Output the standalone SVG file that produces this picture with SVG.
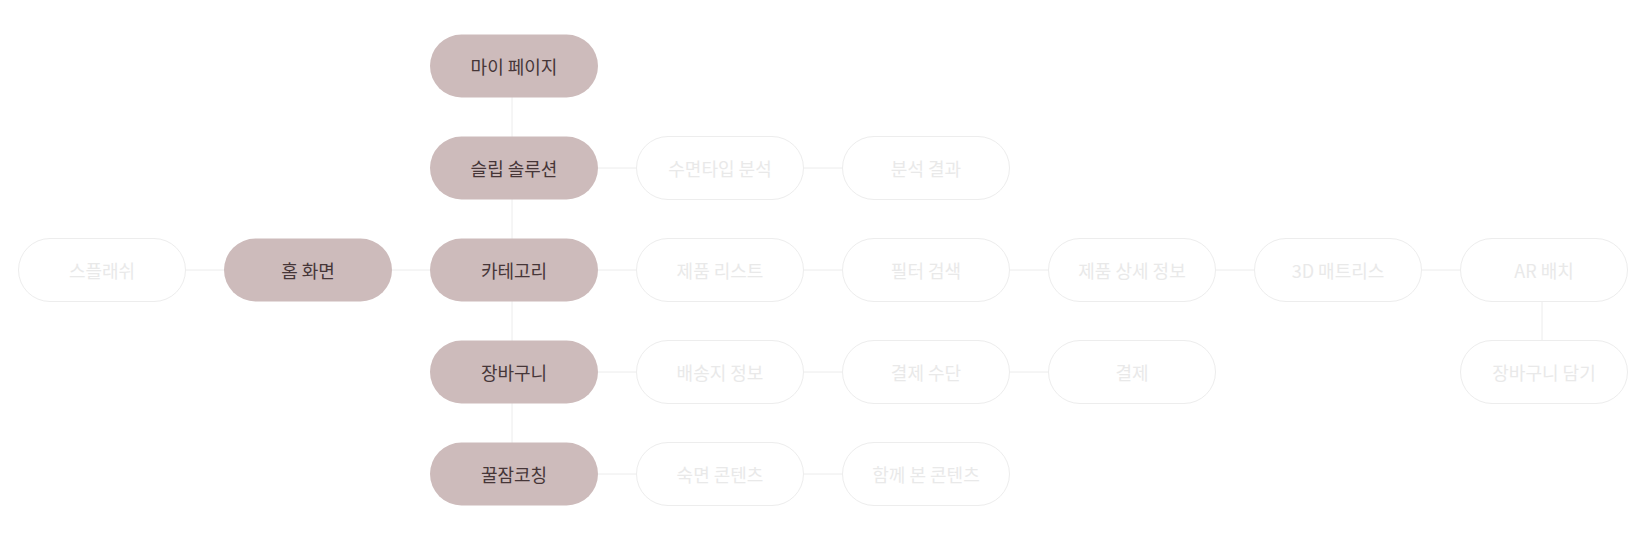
<svg xmlns="http://www.w3.org/2000/svg" width="1648" height="541" viewBox="0 0 1648 541">
<style>
.ln{stroke:#ececec;stroke-width:1;fill:none}
.on rect{fill:#cdbbbb}
.on text{fill:#463638;font-weight:400}
.off rect{fill:#ffffff;stroke:#ededed;stroke-width:1}
.off text{fill:#e9e9e9;font-weight:400}
text{font-family:"Noto Sans CJK KR","Noto Sans",sans-serif;font-size:18px;text-anchor:middle;dominant-baseline:central}
</style>
<rect width="1648" height="541" fill="#ffffff"/>
<g id="connectors">
<line class="ln" x1="512" y1="97" x2="512" y2="443"/>
<line class="ln" x1="186" y1="270" x2="224" y2="270"/>
<line class="ln" x1="392" y1="270" x2="430" y2="270"/>
<line class="ln" x1="598" y1="168" x2="636" y2="168"/>
<line class="ln" x1="804" y1="168" x2="842" y2="168"/>
<line class="ln" x1="598" y1="270" x2="636" y2="270"/>
<line class="ln" x1="804" y1="270" x2="842" y2="270"/>
<line class="ln" x1="1010" y1="270" x2="1048" y2="270"/>
<line class="ln" x1="1216" y1="270" x2="1254" y2="270"/>
<line class="ln" x1="1422" y1="270" x2="1460" y2="270"/>
<line class="ln" x1="598" y1="372" x2="636" y2="372"/>
<line class="ln" x1="804" y1="372" x2="842" y2="372"/>
<line class="ln" x1="1010" y1="372" x2="1048" y2="372"/>
<line class="ln" x1="598" y1="474" x2="636" y2="474"/>
<line class="ln" x1="804" y1="474" x2="842" y2="474"/>
<line class="ln" x1="1542" y1="301" x2="1542" y2="340"/>
</g>
<g id="n-mypage" class="on"><rect x="430" y="34.5" width="168" height="63" rx="31.5"/><text x="514" y="66">마이 페이지</text></g>
<g id="n-sleep" class="on"><rect x="430" y="136.5" width="168" height="63" rx="31.5"/><text x="514" y="168">슬립 솔루션</text></g>
<g id="n-category" class="on"><rect x="430" y="238.5" width="168" height="63" rx="31.5"/><text x="514" y="270">카테고리</text></g>
<g id="n-cart" class="on"><rect x="430" y="340.5" width="168" height="63" rx="31.5"/><text x="514" y="372">장바구니</text></g>
<g id="n-coaching" class="on"><rect x="430" y="442.5" width="168" height="63" rx="31.5"/><text x="514" y="474">꿀잠코칭</text></g>
<g id="n-home" class="on"><rect x="224" y="238.5" width="168" height="63" rx="31.5"/><text x="308" y="270">홈 화면</text></g>
<g id="n-splash" class="off"><rect x="18.5" y="238.5" width="167" height="63" rx="31.5"/><text x="102" y="270">스플래쉬</text></g>
<g id="n-sleeptype" class="off"><rect x="636.5" y="136.5" width="167" height="63" rx="31.5"/><text x="720" y="168">수면타입 분석</text></g>
<g id="n-result" class="off"><rect x="842.5" y="136.5" width="167" height="63" rx="31.5"/><text x="926" y="168">분석 결과</text></g>
<g id="n-list" class="off"><rect x="636.5" y="238.5" width="167" height="63" rx="31.5"/><text x="720" y="270">제품 리스트</text></g>
<g id="n-filter" class="off"><rect x="842.5" y="238.5" width="167" height="63" rx="31.5"/><text x="926" y="270">필터 검색</text></g>
<g id="n-detail" class="off"><rect x="1048.5" y="238.5" width="167" height="63" rx="31.5"/><text x="1132" y="270">제품 상세 정보</text></g>
<g id="n-3d" class="off"><rect x="1254.5" y="238.5" width="167" height="63" rx="31.5"/><text x="1338" y="270">3D 매트리스</text></g>
<g id="n-ar" class="off"><rect x="1460.5" y="238.5" width="167" height="63" rx="31.5"/><text x="1544" y="270">AR 배치</text></g>
<g id="n-address" class="off"><rect x="636.5" y="340.5" width="167" height="63" rx="31.5"/><text x="720" y="372">배송지 정보</text></g>
<g id="n-paymethod" class="off"><rect x="842.5" y="340.5" width="167" height="63" rx="31.5"/><text x="926" y="372">결제 수단</text></g>
<g id="n-pay" class="off"><rect x="1048.5" y="340.5" width="167" height="63" rx="31.5"/><text x="1132" y="372">결제</text></g>
<g id="n-addcart" class="off"><rect x="1460.5" y="340.5" width="167" height="63" rx="31.5"/><text x="1544" y="372">장바구니 담기</text></g>
<g id="n-content" class="off"><rect x="636.5" y="442.5" width="167" height="63" rx="31.5"/><text x="720" y="474">숙면 콘텐츠</text></g>
<g id="n-together" class="off"><rect x="842.5" y="442.5" width="167" height="63" rx="31.5"/><text x="926" y="474">함께 본 콘텐츠</text></g>
</svg>
